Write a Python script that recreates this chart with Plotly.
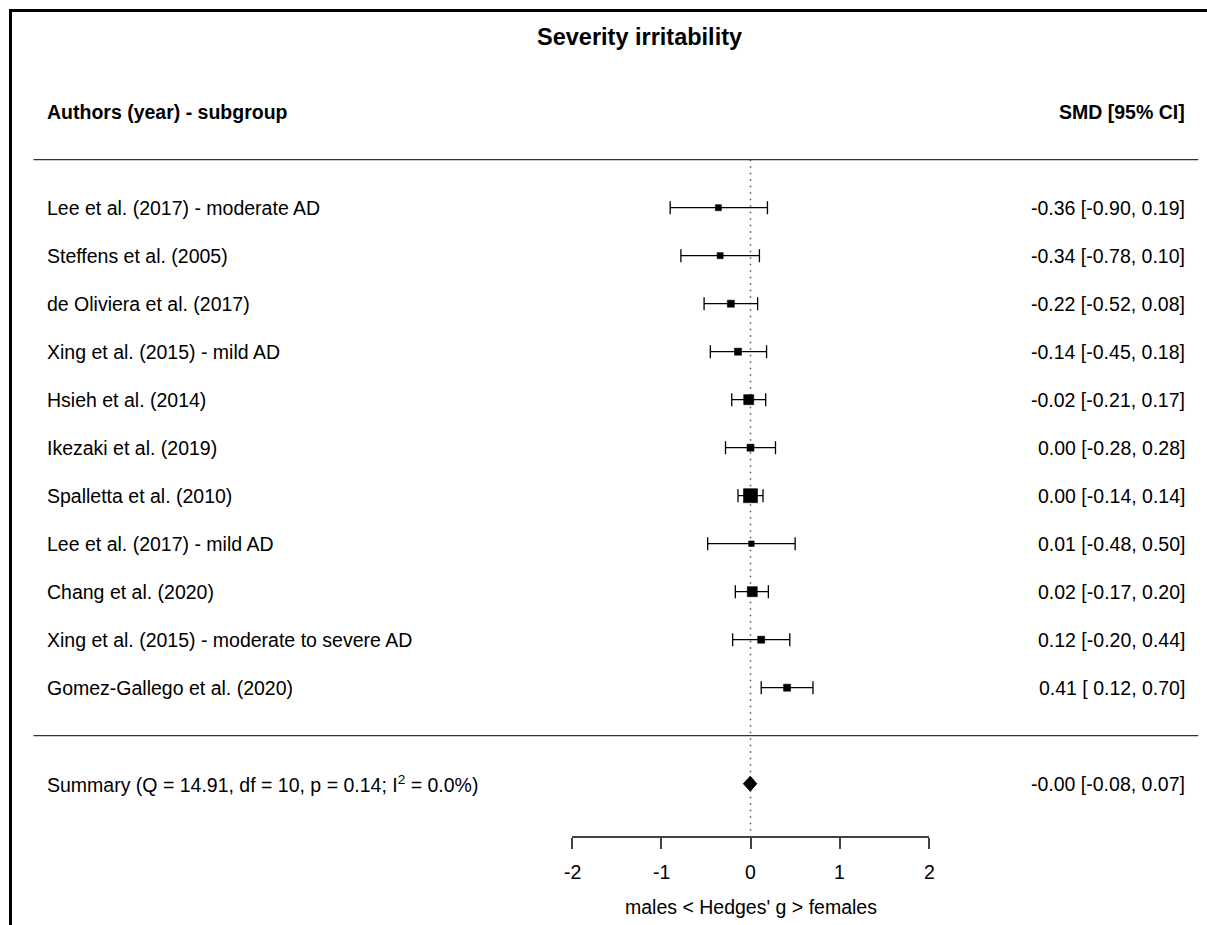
import plotly.graph_objects as go

# ---------------- data ----------------
studies = [
    "Lee et al. (2017) - moderate AD",
    "Steffens et al. (2005)",
    "de Oliviera et al. (2017)",
    "Xing et al. (2015) - mild AD",
    "Hsieh et al. (2014)",
    "Ikezaki et al. (2019)",
    "Spalletta et al. (2010)",
    "Lee et al. (2017) - mild AD",
    "Chang et al. (2020)",
    "Xing et al. (2015) - moderate to severe AD",
    "Gomez-Gallego et al. (2020)",
]
smd = [-0.36, -0.34, -0.22, -0.14, -0.02, 0.00, 0.00, 0.01, 0.02, 0.12, 0.41]
ci_low = [-0.90, -0.78, -0.52, -0.45, -0.21, -0.28, -0.14, -0.48, -0.17, -0.20, 0.12]
ci_high = [0.19, 0.10, 0.08, 0.18, 0.17, 0.28, 0.14, 0.50, 0.20, 0.44, 0.70]
# marker size (px) reflecting study weight
weight_px = [6, 6, 7, 7, 10, 7, 14, 5.5, 10, 7, 7]

summary_est = -0.003
summary_low = -0.08
summary_high = 0.07
summary_label = "Summary (Q = 14.91, df = 10, p = 0.14; I<sup>2</sup> = 0.0%)"

tick_vals = [-2, -1, 0, 1, 2]
tick_text = ["-2", "-1", "0", "1", "2"]

title = "Severity irritability"
left_header = "Authors (year) - subgroup"
right_header = "SMD [95% CI]"
x_title = "males < Hedges' g > females"

# ---------------- layout helpers ----------------
W, H = 1207, 925
ML, MR, MT, MB = 572, 278, 0, 89
PW = W - ML - MR
PH = H - MT - MB
FONT = "Liberation Sans, Arial, Helvetica, sans-serif"
FS = 19.5


def px_x(p):
    return (p - ML) / PW


def px_y(p):
    return (H - MB - p) / PH


rows = list(range(1, len(studies) + 1))
summary_row = len(studies) + 2
y_top = 1 - 207.7 / 48
y_bottom = 1 + (H - MB - 207.7) / 48


def fmt(est, lo, hi):
    return f"{est:.2f} [{lo:5.2f}, {hi:.2f}]".replace("[ ", "[&nbsp;")


fig = go.Figure()

# confidence intervals (whiskers with caps)
fig.add_trace(go.Scatter(
    x=smd, y=rows, mode="markers",
    marker=dict(size=1, color="rgba(0,0,0,0)"),
    error_x=dict(type="data", symmetric=False,
                 array=[h - e for h, e in zip(ci_high, smd)],
                 arrayminus=[e - l for e, l in zip(smd, ci_low)],
                 color="black", thickness=1.3, width=6.5),
    hoverinfo="skip", showlegend=False,
))
# point estimates (squares sized by weight) drawn on top
fig.add_trace(go.Scatter(
    x=smd, y=rows, mode="markers",
    marker=dict(symbol="square", size=weight_px, color="black", opacity=1,
                line=dict(width=0.6, color="black")),
    hoverinfo="skip", showlegend=False,
))

# summary diamond polygon
dh = 0.155
fig.add_trace(go.Scatter(
    x=[summary_low, summary_est, summary_high, summary_est, summary_low],
    y=[summary_row, summary_row - dh, summary_row, summary_row + dh, summary_row],
    mode="lines", fill="toself", fillcolor="black",
    line=dict(color="black", width=1), hoverinfo="skip", showlegend=False,
))

shapes = []
# reference dotted line at 0
shapes.append(dict(type="line", xref="x", yref="y", x0=0, x1=0, y0=0, y1=y_bottom,
                   line=dict(color="#555555", width=1.5, dash="1.5px,5px"), layer="below"))
# horizontal separators
for r in (0, summary_row - 1):
    shapes.append(dict(type="line", xref="paper", yref="y", x0=px_x(33.5), x1=px_x(1198.3),
                       y0=r, y1=r, line=dict(color="#333333", width=1.3)))
# partial frame (top and left)
shapes.append(dict(type="line", xref="paper", yref="paper", x0=px_x(10.5), x1=px_x(1215),
                   y0=px_y(10.5), y1=px_y(10.5), line=dict(color="black", width=3)))
shapes.append(dict(type="line", xref="paper", yref="paper", x0=px_x(10.5), x1=px_x(10.5),
                   y0=px_y(9), y1=px_y(935), line=dict(color="black", width=3)))

ann = []
base = dict(showarrow=False, font=dict(family=FONT, size=FS, color="black"))
ann.append(dict(text=f"<b>{title}</b>", xref="paper", yref="paper", x=px_x(639.5), y=px_y(37),
                xanchor="center", yanchor="middle", **{**base, "font": dict(family=FONT, size=23.5, color="black")}))
ann.append(dict(text=f"<b>{left_header}</b>", xref="paper", yref="y", x=px_x(45), y=-1,
                xanchor="left", yanchor="middle", **base))
ann.append(dict(text=f"<b>{right_header}</b>", xref="paper", yref="y", x=px_x(1187), y=-1,
                xanchor="right", yanchor="middle", **base))
for r, name, e, l, h in zip(rows, studies, smd, ci_low, ci_high):
    ann.append(dict(text=name, xref="paper", yref="y", x=px_x(45), y=r,
                    xanchor="left", yanchor="middle", **base))
    ann.append(dict(text=fmt(e, l, h), xref="paper", yref="y", x=px_x(1187), y=r,
                    xanchor="right", yanchor="middle", **base))
ann.append(dict(text=summary_label, xref="paper", yref="y", x=px_x(45), y=summary_row,
                xanchor="left", yanchor="middle", **base))
ann.append(dict(text=fmt(summary_est, summary_low, summary_high), xref="paper", yref="y",
                x=px_x(1187), y=summary_row, xanchor="right", yanchor="middle", **base))
for v, t in zip(tick_vals, tick_text):
    ann.append(dict(text=t, xref="x", yref="paper", x=v, y=px_y(871.7),
                    xanchor="center", yanchor="middle", **base))
ann.append(dict(text=x_title, xref="x", yref="paper", x=0, y=px_y(907),
                xanchor="center", yanchor="middle", **base))

fig.update_layout(
    width=W, height=H,
    margin=dict(l=ML, r=MR, t=MT, b=MB, pad=0),
    paper_bgcolor="white", plot_bgcolor="white",
    font=dict(family=FONT, size=FS, color="black"),
    shapes=shapes, annotations=ann,
    xaxis=dict(range=[-2, 2], tickvals=tick_vals, showticklabels=False,
               showgrid=False, zeroline=False, showline=True, linecolor="#444444",
               linewidth=1.5, ticks="outside", ticklen=11, tickwidth=1.5,
               tickcolor="#444444", fixedrange=True),
    yaxis=dict(range=[y_bottom, y_top], visible=False, showgrid=False,
               zeroline=False, fixedrange=True),
)

fig.write_html("out.html")
